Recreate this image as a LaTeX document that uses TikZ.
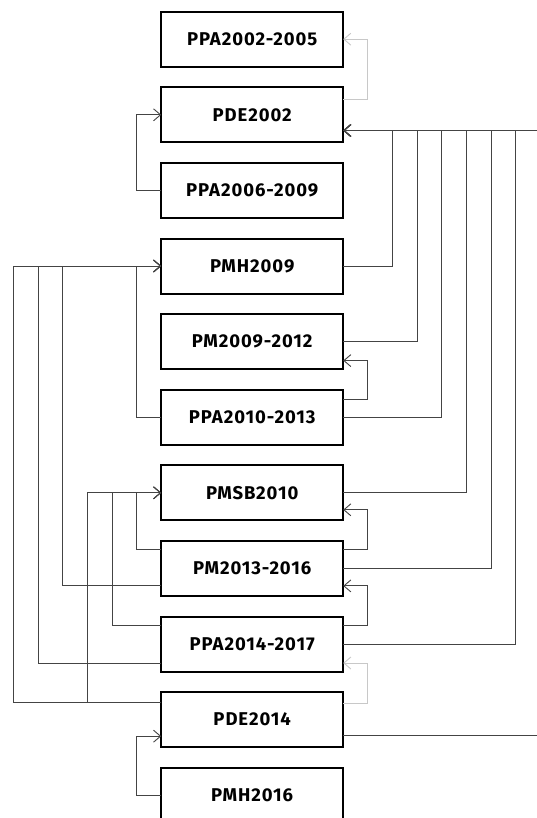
\documentclass[tikz,border=0pt]{standalone}
\usepackage{fontspec}
\newfontfamily\planfont[LetterSpace=5]{Fira Sans}
\usetikzlibrary{arrows.meta,positioning,calc}
\definecolor{linkgray}{RGB}{68,68,68}
\definecolor{softgray}{RGB}{200,200,200}

\begin{document}
\begin{tikzpicture}[
    x=1pt, y=-1pt,
    node distance=20.6pt,
    plan/.style={rectangle, draw=black, line width=2pt, fill=white, minimum width=182pt, minimum height=55pt, outer sep=0pt, inner sep=0pt, align=center, font=\planfont\bfseries\fontsize{18.5}{20}\selectfont},
    link/.style={-{Straight Barb[length=7pt,width=12pt]}, line width=0.9pt, draw=linkgray},
    faint/.style={link, draw=softgray}
]
    \useasboundingbox (0,0) rectangle (536,818);

    \node[plan] (ppaA) at (252.2,39.2) {PPA2002-2005};
    \node[plan, below=of ppaA] (pdeA) {PDE2002};
    \node[plan, below=of pdeA] (ppaB) {PPA2006-2009};
    \node[plan, below=of ppaB] (pmhA) {PMH2009};
    \node[plan, below=of pmhA] (pmA) {PM2009-2012};
    \node[plan, below=of pmA] (ppaC) {PPA2010-2013};
    \node[plan, below=of ppaC] (pmsb) {PMSB2010};
    \node[plan, below=of pmsb] (pmB) {PM2013-2016};
    \node[plan, below=of pmB] (ppaD) {PPA2014-2017};
    \node[plan, below=of ppaD] (pdeB) {PDE2014};
    \node[plan, below=of pdeB] (pmhB) {PMH2016};

    % short loops on the right
    \draw[faint] ($(pdeA.east)+(0,-15)$) -- ++(24.7,0) |- (ppaA.east);
    \draw[link] ($(ppaC.east)+(0,-17.5)$) -- ++(24.7,0) |- ($(pmA.east)+(0,19)$);
    \draw[link] ($(pmB.east)+(0,-18.5)$) -- ++(24.7,0) |- ($(pmsb.east)+(0,17)$);
    \draw[link] ($(ppaD.east)+(0,-18.3)$) -- ++(24.7,0) |- ($(pmB.east)+(0,17.5)$);
    \draw[faint] ($(pdeB.east)+(0,-16.4)$) -- ++(24.7,0) |- ($(ppaD.east)+(0,19)$);

    % all back to PDE2002
    \foreach \src/\dy/\dx in {pmhA/0/49.4, pmA/0/74, ppaC/0/98.6, pmsb/0/123.2, pmB/0/147.8, ppaD/0/172.4, pdeB/16.3/197}
        \draw[link] ($(\src.east)+(0,\dy)$) -- ++(\dx,0) |- ($(pdeA.east)+(0,15.7)$);

    % left side
    \draw[link] (ppaB.west) -- ++(-24.6,0) |- (pdeA.west);
    \foreach \src/\dy/\dx in {ppaC/0/24.6, pmB/17/98.4, ppaD/19/123, pdeB/-16.7/147.6}
        \draw[link] ($(\src.west)+(0,\dy)$) -- ++(-\dx,0) |- (pmhA.west);
    \foreach \src/\dy/\dx in {pmB/-18.5/24.6, ppaD/-18.3/49.2, pdeB/-16.7/73.8}
        \draw[link] ($(\src.west)+(0,\dy)$) -- ++(-\dx,0) |- (pmsb.west);
    \draw[link] (pmhB.west) -- ++(-24.6,0) |- ($(pdeB.west)+(0,16.6)$);
\end{tikzpicture}
\end{document}
